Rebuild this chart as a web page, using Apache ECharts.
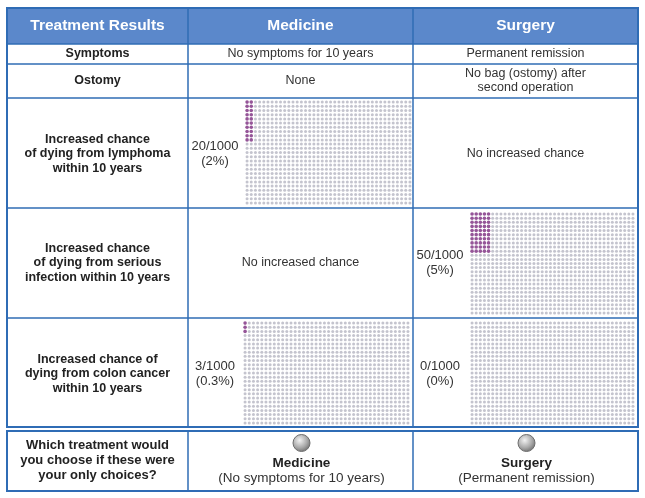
<!DOCTYPE html>
<html><head><meta charset="utf-8">
<script src="https://cdn.jsdelivr.net/npm/echarts@6/dist/echarts.min.js"></script>
<style>html,body{margin:0;padding:0;background:#fff}#c{width:645px;height:498px}</style>
</head><body><div id="c"></div>
<script>
// ---- data ----
var headers = ['Treatment Results', 'Medicine', 'Surgery'];
var rowLabels = ['Symptoms', 'Ostomy',
  'Increased chance\nof dying from lymphoma\nwithin 10 years',
  'Increased chance\nof dying from serious\ninfection within 10 years',
  'Increased chance of\ndying from colon cancer\nwithin 10 years'];
var medicineText = ['No symptoms for 10 years', 'None'];
var surgeryText = ['Permanent remission', 'No bag (ostomy) after\nsecond operation'];
// risk per 1000 (null = no increased chance)
var medicineRisk = [20, null, 3];
var surgeryRisk = [null, 50, 0];
var medicineRiskLabel = ['20/1000\n(2%)', null, '3/1000\n(0.3%)'];
var surgeryRiskLabel = [null, '50/1000\n(5%)', '0/1000\n(0%)'];
var noChangeText = 'No increased chance';
var choiceQuestion = 'Which treatment would\nyou choose if these were\nyour only choices?';
var choiceNames = ['Medicine', 'Surgery'];
var choiceSub = ['(No symptoms for 10 years)', '(Permanent remission)'];
var GRID_COLS = 40, GRID_ROWS = 25, BLOCK_ROWS = 10;

// ---- layout ----
var L = 7, R = 638, colX = [7, 188, 413, 638];
var rowY = [8, 44, 64, 98, 208, 318, 427];
var boxTop = 431, boxBot = 491;
var BLUE = '#2f6cb5', HEAD = '#5b88cb';
var FONT = '"Liberation Sans", Arial, sans-serif';
var GRAY = '#b5b5c2', PURPLE = '#7b2a7e';

var chart = echarts.init(document.getElementById('c'), null, {renderer: 'canvas'});

function cx(i) { return (colX[i] + colX[i + 1]) / 2; }

var graphic = [];
graphic.push({type: 'rect', shape: {x: L, y: rowY[0], width: R - L, height: rowY[1] - rowY[0]}, style: {fill: HEAD}, z: 1});
for (var i = 1; i < rowY.length - 1; i++) {
  graphic.push({type: 'line', shape: {x1: L, y1: rowY[i], x2: R, y2: rowY[i]}, style: {stroke: BLUE, lineWidth: 1.5}, z: 5});
}
[1, 2].forEach(function (c) {
  graphic.push({type: 'line', shape: {x1: colX[c], y1: rowY[0], x2: colX[c], y2: rowY[6]}, style: {stroke: BLUE, lineWidth: 1.5}, z: 5});
  graphic.push({type: 'line', shape: {x1: colX[c], y1: boxTop, x2: colX[c], y2: boxBot}, style: {stroke: BLUE, lineWidth: 1.5}, z: 5});
});
graphic.push({type: 'rect', shape: {x: L, y: rowY[0], width: R - L, height: rowY[6] - rowY[0]}, style: {fill: 'none', stroke: BLUE, lineWidth: 2}, z: 6});
graphic.push({type: 'rect', shape: {x: L, y: boxTop, width: R - L, height: boxBot - boxTop}, style: {fill: 'none', stroke: BLUE, lineWidth: 2}, z: 6});

function txt(x, y, s, opt) {
  opt = opt || {};
  graphic.push({type: 'text', x: x, y: y, z: 10, style: {
    text: s, fill: opt.fill || '#222', font: (opt.bold ? 'bold ' : '') + (opt.size || 12.5) + 'px ' + FONT,
    textAlign: 'center', textVerticalAlign: 'middle', lineHeight: opt.lh || 14.5
  }});
}
headers.forEach(function (h, i) { txt(cx(i), 26, h, {fill: '#fff', bold: true, size: 15.5}); });
var rowMid = [54, 81, 154, 263, 374];
rowLabels.forEach(function (s, i) { txt(cx(0), rowMid[i], s, {bold: true, size: 12.5}); });
medicineText.forEach(function (s, i) { txt(cx(1), rowMid[i], s, {fill: '#333'}); });
surgeryText.forEach(function (s, i) { txt(cx(2), rowMid[i], s, {lh: 14, fill: '#333'}); });

var series = [], grids = [], xAxes = [], yAxes = [];
var gridBoxes = {
  m: [[245, 100, 167, 105], null, [243, 321, 167, 104]],
  s: [null, [470, 212, 165, 103], [470, 321, 165, 104]]
};
function addIcon(box, count) {
  var gi = grids.length;
  grids.push({left: box[0], top: box[1], width: box[2], height: box[3]});
  xAxes.push({gridIndex: gi, type: 'value', min: -0.5, max: GRID_COLS - 0.5, show: false});
  yAxes.push({gridIndex: gi, type: 'value', min: -0.5, max: GRID_ROWS - 0.5, inverse: true, show: false});
  var gray = [], purple = [];
  for (var c = 0; c < GRID_COLS; c++) {
    for (var r = 0; r < GRID_ROWS; r++) {
      var idx = r < BLOCK_ROWS ? c * BLOCK_ROWS + r : Infinity;
      (idx < count ? purple : gray).push([c, r]);
    }
  }
  series.push({type: 'scatter', xAxisIndex: gi, yAxisIndex: gi, data: gray, symbolSize: 3, itemStyle: {color: GRAY}, silent: true, animation: false});
  series.push({type: 'scatter', xAxisIndex: gi, yAxisIndex: gi, data: purple, symbolSize: 3.6, itemStyle: {color: PURPLE}, silent: true, animation: false});
}
for (var k = 0; k < 3; k++) {
  var mid = rowMid[k + 2];
  if (medicineRisk[k] === null) txt(cx(1), mid, noChangeText, {fill: '#333'});
  else { addIcon(gridBoxes.m[k], medicineRisk[k]); txt(215, mid, medicineRiskLabel[k], {size: 13, lh: 15, fill: '#333'}); }
  if (surgeryRisk[k] === null) txt(cx(2), mid, noChangeText, {fill: '#333'});
  else { addIcon(gridBoxes.s[k], surgeryRisk[k]); txt(440, mid, surgeryRiskLabel[k], {size: 13, lh: 15, fill: '#333'}); }
}

txt(cx(0), 460, choiceQuestion, {bold: true, size: 13, lh: 15});
[1, 2].forEach(function (c, i) {
  graphic.push({type: 'circle', shape: {cx: cx(c) + 1, cy: 443, r: 8.5}, z: 10, style: {
    fill: new echarts.graphic.RadialGradient(0.4, 0.35, 0.7, [{offset: 0, color: '#f2f2f2'}, {offset: 0.6, color: '#a8a8a8'}, {offset: 1, color: '#6a6a6a'}]),
    stroke: '#6d6d6d', lineWidth: 1}});
  txt(cx(c) + 1, 463, choiceNames[i], {bold: true, size: 13.5});
  txt(cx(c) + 1, 478, choiceSub[i], {size: 13.5, fill: '#333'});
});

chart.setOption({
  animation: false,
  grid: grids, xAxis: xAxes, yAxis: yAxes, series: series,
  graphic: graphic
});
</script></body></html>
